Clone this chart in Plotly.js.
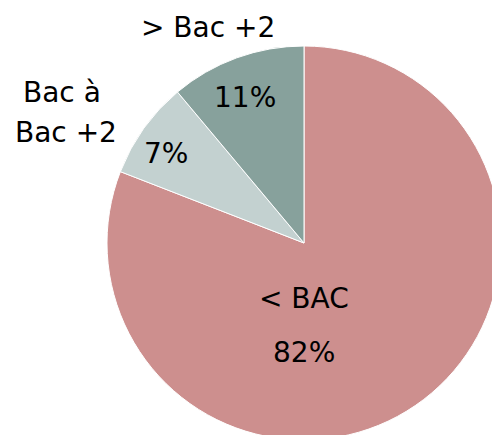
<!DOCTYPE html>
<html>
<head>
<meta charset="utf-8">
<script src="https://cdn.plot.ly/plotly-3.0.1.min.js"></script>
<style>
html,body{margin:0;padding:0;overflow:hidden;width:492px;height:435px;background:#fff;}
#chart{position:absolute;left:0;top:0;width:700px;height:500px;}
</style>
</head>
<body>
<div id="chart"></div>
<script>
// Data
const categories = ["< BAC", "Bac à<br>Bac +2", "> Bac +2"];
const values = [80.9, 8.0, 11.1];
const pctLabels = ["82%", "7%", "11%"];
const colors = ["#CD8F8E", "#C3D1D0", "#87A19C"];

const W = 700, H = 500;
const px = x => x / W;
const py = y => 1 - y / H;
const fontFam = "'DejaVu Sans', sans-serif";
const fs = 28;

const trace = {
  type: "pie",
  labels: categories,
  values: values,
  sort: false,
  direction: "clockwise",
  rotation: 0,
  textinfo: "none",
  hoverinfo: "label+percent",
  marker: {colors: colors, line: {color: "#ffffff", width: 1}},
  domain: {x: [px(107), px(501)], y: [py(440), py(46)]},
  showlegend: false
};

function ann(text, x, y) {
  return {text: text, x: px(x), y: py(y), xref: "paper", yref: "paper",
    showarrow: false, xanchor: "center", yanchor: "middle",
    font: {family: fontFam, size: fs, color: "#000"}};
}

const catLines = categories[1].split("<br>");

const layout = {
  width: W, height: H,
  margin: {l: 0, r: 0, t: 0, b: 0},
  paper_bgcolor: "#fff",
  annotations: [
    ann(categories[2], 208, 27),
    ann(catLines[0], 62, 93),
    ann(catLines[1], 66, 132),
    ann(pctLabels[2], 245, 98),
    ann(pctLabels[1], 166, 153),
    ann(categories[0], 304, 298),
    ann(pctLabels[0], 304, 352)
  ]
};

Plotly.newPlot("chart", [trace], layout, {displayModeBar: false, staticPlot: true});
</script>
</body>
</html>
